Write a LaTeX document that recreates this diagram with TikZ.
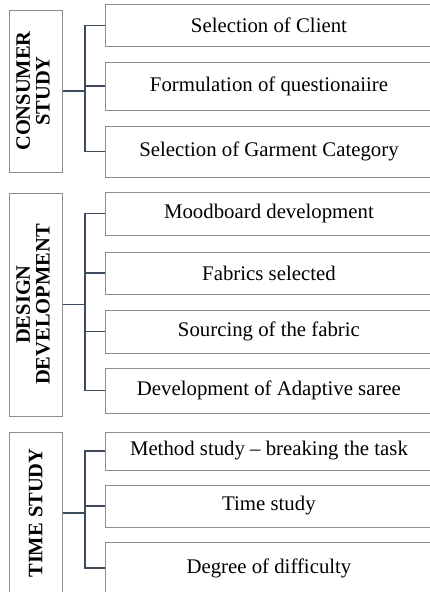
\documentclass[tikz,border=0pt]{standalone}
\usepackage{fontspec}
\setmainfont{Liberation Serif}
\usepackage{tikz}

\definecolor{boxgray}{HTML}{8C8C8C}
\definecolor{linkblue}{HTML}{3E4B5E}

\tikzset{
  catbox/.style={draw=boxgray, line width=0.9pt, minimum width=53.5pt, inner sep=0pt,
    font=\fontsize{20.5}{20}\selectfont\bfseries},
  itembox/.style={draw=boxgray, line width=0.9pt, anchor=west, minimum width=327pt,
    inner sep=0pt, font=\fontsize{20.8}{22}\selectfont},
  link/.style={draw=linkblue, line width=1.3pt}
}

\begin{document}
\begin{tikzpicture}[x=1pt, y=-1pt]
  \useasboundingbox (0,0) rectangle (430,592);
  \clip (0,0) rectangle (430,592);

  % consumer study
  \node[catbox, minimum height=162pt] (cons) at (35.75,91) {\rotatebox{90}{\begin{tabular}{@{}c@{}}CONSUMER\\STUDY\end{tabular}}};
  \node[itembox, minimum height=42.5pt] (c1) at (105,25.25) {Selection of Client};
  \node[itembox, minimum height=48pt] (c2) at (105,86) {Formulation of questionaiire};
  \node[itembox, minimum height=51pt] (c3) at (105,151.5) {Selection of Garment Category};

  % design development
  \node[catbox, minimum height=223pt] (dsgn) at (35.75,304.5) {\rotatebox{90}{\begin{tabular}{@{}c@{}}DESIGN\\DEVELOPMENT\end{tabular}}};
  \node[itembox, minimum height=43pt] (d1) at (105,213.5) {Moodboard development};
  \node[itembox, minimum height=42pt] (d2) at (105,273) {Fabrics selected};
  \node[itembox, minimum height=43pt] (d3) at (105,331.5) {Sourcing of the fabric};
  \node[itembox, minimum height=45pt] (d4) at (105,390.5) {Development of Adaptive saree};

  % time study
  \node[catbox, minimum height=162pt] (time) at (35.75,513) {\rotatebox{90}{TIME STUDY}};
  \node[itembox, minimum height=38pt] (t1) at (105,451) {Method study -- breaking the task};
  \node[itembox, minimum height=42pt] (t2) at (105,506) {Time study};
  \node[itembox, minimum height=52pt] (t3) at (105,568) {Degree of difficulty};

  % connectors
  \coordinate (cj) at ([xshift=22pt]cons.east);
  \coordinate (dj) at ([xshift=22pt]dsgn.east);
  \coordinate (tj) at ([xshift=22pt]time.east);
  \draw[link] (cons.east) -- (cj);
  \draw[link] (dsgn.east) -- (dj);
  \draw[link] (time.east) -- (tj);
  \foreach \n in {c1,c2,c3}
    \draw[link] (cj) |- (\n.west);
  \foreach \n in {d1,d2,d3,d4}
    \draw[link] (dj) |- (\n.west);
  \foreach \n in {t1,t2,t3}
    \draw[link] (tj) |- (\n.west);
\end{tikzpicture}
\end{document}
